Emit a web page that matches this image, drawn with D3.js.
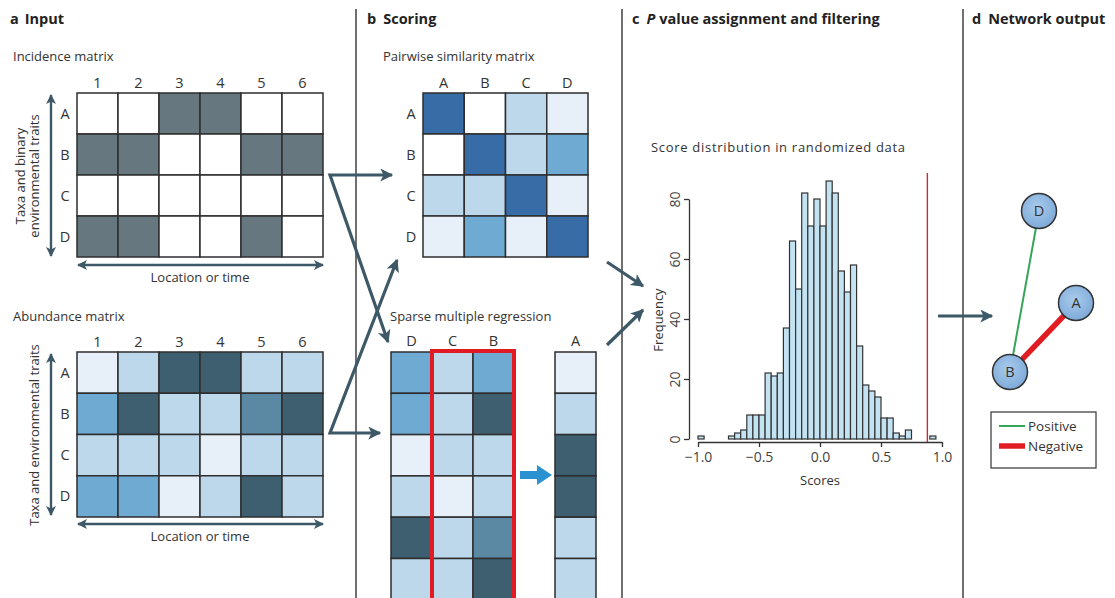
<!DOCTYPE html>
<html>
<head>
<meta charset="utf-8">
<script src="https://cdn.jsdelivr.net/npm/d3@7"></script>
<style>
  body { margin: 0; background: #fff; }
  svg { font-family: "Open Sans", Lato, sans-serif; fill: #333; }
  .head { font-size: 14.5px; font-weight: bold; fill: #222; }
  .sub { font-size: 13px; fill: #333; }
  .lab { font-size: 14.5px; fill: #333; }
  .axis text { font-size: 14px; fill: #444; font-family: "Open Sans", sans-serif; }
  .axis path, .axis line { stroke: #333; stroke-width: 1.3; }
</style>
</head>
<body>
<div id="fig"></div>
<script>
// figure size
var svgWidth = 1115;
var svgHeight = 598;

// ---- data ----
var sites = ["1", "2", "3", "4", "5", "6"];
var taxa = ["A", "B", "C", "D"];

// incidence (1 = present)
var incidenceA = [0, 0, 1, 1, 0, 0];
var incidenceB = [1, 1, 0, 0, 1, 1];
var incidenceC = [0, 0, 0, 0, 0, 0];
var incidenceD = [1, 1, 0, 0, 1, 0];

// abundance levels 0 (low) .. 4 (high)
var abundanceA = [0, 1, 4, 4, 1, 1];
var abundanceB = [2, 4, 1, 1, 3, 4];
var abundanceC = [1, 1, 1, 0, 1, 1];
var abundanceD = [2, 2, 0, 1, 4, 1];

// pairwise similarity levels (-1 = none, 5 = self)
var similarityA = [5, -1, 1, 0];
var similarityB = [-1, 5, 1, 2];
var similarityC = [1, 1, 5, 0];
var similarityD = [0, 2, 0, 5];

// sparse multiple regression columns (6 samples shown)
var regressors = ["D", "C", "B"];
var regD = [2, 2, 0, 1, 4, 1];
var regC = [1, 1, 1, 0, 1, 1];
var regB = [2, 4, 1, 1, 3, 4];
var regA = [0, 1, 4, 4, 1, 1];

// histogram of randomized scores (bin start, width 0.05)
var binStart = [-1.0, -0.75, -0.70, -0.65, -0.60, -0.55, -0.50, -0.45, -0.40, -0.35,
  -0.30, -0.25, -0.20, -0.15, -0.10, -0.05, 0.00, 0.05, 0.10, 0.15,
  0.20, 0.25, 0.30, 0.35, 0.40, 0.45, 0.50, 0.55, 0.60, 0.65, 0.70, 0.90];
var binCount = [1, 1, 2, 3, 8, 8, 8, 22, 21, 22,
  37, 66, 50, 82, 71, 80, 71, 86, 82, 56,
  49, 58, 31, 18, 16, 14, 7, 7, 2, 1, 3, 1];
var observedScore = 0.88;
var xTicks = [-1, -0.5, 0, 0.5, 1];
var yTicks = [0, 20, 40, 60, 80];

// network
var nodeNames = ["D", "A", "B"];
var nodeX = [1039, 1076, 1010];
var nodeY = [211, 303, 372];
var edgeFrom = ["D", "A"];
var edgeTo = ["B", "B"];
var edgeType = ["Positive", "Negative"];

// ---- colours ----
var levelColor = d3.scaleOrdinal()
  .domain([-1, 0, 1, 2, 3, 4, 5])
  .range(["#ffffff", "#e7f0f9", "#bdd7eb", "#6faad3", "#5b88a2", "#3e5f6f", "#386ca6"]);
var incColor = d3.scaleOrdinal().domain([0, 1]).range(["#ffffff", "#67777f"]);
var edgeColor = d3.scaleOrdinal().domain(["Positive", "Negative"]).range(["#35a55a", "#e11d23"]);
var edgeWidth = d3.scaleOrdinal().domain(["Positive", "Negative"]).range([2, 5.5]);
var arrowCol = "#3d5866";

var svg = d3.select("#fig")
  .append("svg")
  .attr("width", svgWidth)
  .attr("height", svgHeight);

// arrow heads
var defs = svg.append("defs");
defs.append("marker")
  .attr("id", "arr")
  .attr("viewBox", "0 0 10 10")
  .attr("refX", 9).attr("refY", 5)
  .attr("markerUnits", "userSpaceOnUse")
  .attr("markerWidth", 15).attr("markerHeight", 13)
  .attr("orient", "auto-start-reverse")
  .append("path").attr("d", "M0,0 L10,5 L0,10 L2.5,5 z").attr("fill", arrowCol);
defs.append("marker")
  .attr("id", "arrSmall")
  .attr("viewBox", "0 0 10 10")
  .attr("refX", 9).attr("refY", 5)
  .attr("markerUnits", "userSpaceOnUse")
  .attr("markerWidth", 11).attr("markerHeight", 10)
  .attr("orient", "auto-start-reverse")
  .append("path").attr("d", "M0,0 L10,5 L0,10 L2.5,5 z").attr("fill", arrowCol);

// panel separators
[356, 622, 963].forEach(function(x) {
  svg.append("line")
    .attr("x1", x).attr("x2", x).attr("y1", 9).attr("y2", svgHeight)
    .attr("stroke", "#333").attr("stroke-width", 1.4);
});

// panel headings
function heading(x, letter) {
  var t = svg.append("text").attr("class", "head").attr("x", x).attr("y", 24);
  t.append("tspan").text(letter);
  return t;
}
heading(10, "a").append("tspan").attr("dx", 6).text("Input");
heading(367, "b").append("tspan").attr("dx", 7).text("Scoring");
var hc = heading(632, "c");
hc.append("tspan").attr("dx", 7).attr("font-style", "italic").text("P");
hc.append("tspan").attr("dx", 4).text("value assignment and filtering");
heading(972, "d").append("tspan").attr("dx", 7).text("Network output");

// generic matrix drawer (own group per matrix)
function drawMatrix(parent, cols, rows, values, x0, y0, cw, ch, colorFn) {
  var g = parent.append("g");
  var x = d3.scaleBand().domain(cols).range([x0, x0 + cw * cols.length]);
  var y = d3.scaleBand().domain(rows).range([y0, y0 + ch * rows.length]);
  var cells = [];
  rows.forEach(function(r, i) {
    cols.forEach(function(c, j) { cells.push({ r: r, c: c, v: values[i][j] }); });
  });
  g.selectAll("rect.cell")
    .data(cells)
    .enter()
    .append("rect")
    .attr("class", "cell")
    .attr("x", d => x(d.c))
    .attr("y", d => y(d.r))
    .attr("width", x.bandwidth())
    .attr("height", y.bandwidth())
    .attr("fill", d => colorFn(d.v))
    .attr("stroke", "#2e2e2e")
    .attr("stroke-width", 1.5);
  return { x: x, y: y };
}

function colLabels(g, sc, yPos) {
  g.append("g").selectAll("text").data(sc.domain()).enter().append("text")
    .attr("class", "lab")
    .attr("x", d => sc(d) + sc.bandwidth() / 2)
    .attr("y", yPos)
    .attr("text-anchor", "middle")
    .text(d => d);
}
function rowLabels(g, sc, xPos) {
  g.append("g").selectAll("text").data(sc.domain()).enter().append("text")
    .attr("class", "lab")
    .attr("x", xPos)
    .attr("y", d => sc(d) + sc.bandwidth() / 2 + 5)
    .attr("text-anchor", "middle")
    .text(d => d);
}

// ---- panel a ----
var gA = svg.append("g");
gA.append("text").attr("class", "sub").attr("x", 13).attr("y", 61).text("Incidence matrix");
var inc = drawMatrix(gA, sites, taxa, [incidenceA, incidenceB, incidenceC, incidenceD],
  77, 93, 41, 41, incColor);
colLabels(gA, inc.x, 88);
rowLabels(gA, inc.y, 65);
gA.append("path").attr("d", "M51,95 L51,256").attr("stroke", arrowCol).attr("stroke-width", 2.4)
  .attr("marker-start", "url(#arrSmall)").attr("marker-end", "url(#arrSmall)");
gA.append("path").attr("d", "M78,265 L323,265").attr("stroke", arrowCol).attr("stroke-width", 2.4)
  .attr("marker-start", "url(#arrSmall)").attr("marker-end", "url(#arrSmall)");
gA.append("text").attr("class", "sub").attr("x", 200).attr("y", 282).attr("text-anchor", "middle").text("Location or time");
gA.append("text").attr("class", "sub").attr("transform", "translate(25,176) rotate(-90)")
  .attr("text-anchor", "middle").text("Taxa and binary");
gA.append("text").attr("class", "sub").attr("transform", "translate(39,176) rotate(-90)")
  .attr("text-anchor", "middle").text("environmental traits");

gA.append("text").attr("class", "sub").attr("x", 13).attr("y", 321).text("Abundance matrix");
var abu = drawMatrix(gA, sites, taxa, [abundanceA, abundanceB, abundanceC, abundanceD],
  77, 352, 41, 41.25, levelColor);
colLabels(gA, abu.x, 347);
rowLabels(gA, abu.y, 65);
gA.append("path").attr("d", "M51,354 L51,515").attr("stroke", arrowCol).attr("stroke-width", 2.4)
  .attr("marker-start", "url(#arrSmall)").attr("marker-end", "url(#arrSmall)");
gA.append("path").attr("d", "M78,524 L323,524").attr("stroke", arrowCol).attr("stroke-width", 2.4)
  .attr("marker-start", "url(#arrSmall)").attr("marker-end", "url(#arrSmall)");
gA.append("text").attr("class", "sub").attr("x", 200).attr("y", 541).attr("text-anchor", "middle").text("Location or time");
gA.append("text").attr("class", "sub").attr("transform", "translate(39,435) rotate(-90)")
  .attr("text-anchor", "middle").text("Taxa and environmental traits");

// ---- panel b ----
var gB = svg.append("g");
gB.append("text").attr("class", "sub").attr("x", 383).attr("y", 61).text("Pairwise similarity matrix");
var sim = drawMatrix(gB, taxa, taxa, [similarityA, similarityB, similarityC, similarityD],
  423, 93, 41.25, 41, levelColor);
colLabels(gB, sim.x, 88);
rowLabels(gB, sim.y, 411);

gB.append("text").attr("class", "sub").attr("x", 390).attr("y", 321).text("Sparse multiple regression");
var rows6 = ["r1", "r2", "r3", "r4", "r5", "r6"];
var regVals = rows6.map((r, i) => [regD[i], regC[i], regB[i]]);
var reg = drawMatrix(gB, regressors, rows6, regVals, 391, 352, 41, 41.3, levelColor);
colLabels(gB, reg.x, 346);
var resp = drawMatrix(gB, ["A"], rows6, rows6.map((r, i) => [regA[i]]), 555, 352, 41, 41.3, levelColor);
colLabels(gB, resp.x, 346);
// selected predictors
gB.append("rect")
  .attr("x", reg.x("C")).attr("y", 351)
  .attr("width", reg.x.bandwidth() * 2).attr("height", 260)
  .attr("fill", "none").attr("stroke", "#e01b24").attr("stroke-width", 4);
// blue block arrow
gB.append("path")
  .attr("d", "M520,471 L537,471 L537,465 L552,475 L537,485 L537,479 L520,479 Z")
  .attr("fill", "#2a92d1");

// arrows between panels
var arrowPaths = [
  "M392,175 L330,175 L388,342",
  "M380,433 L330,433 L397,260",
  "M607,262 L643,286",
  "M607,345 L643,310",
  "M938,316 L992,316"
];
svg.append("g").selectAll("path")
  .data(arrowPaths)
  .enter()
  .append("path")
  .attr("d", d => d)
  .attr("fill", "none")
  .attr("stroke", arrowCol)
  .attr("stroke-width", 3.2)
  .attr("stroke-linejoin", "miter")
  .attr("marker-start", (d, i) => i < 2 ? "url(#arr)" : null)
  .attr("marker-end", "url(#arr)");

// ---- panel c : histogram ----
var gC = svg.append("g");
gC.append("text").attr("class", "sub").attr("x", 651).attr("y", 152)
  .attr("font-size", 15).attr("letter-spacing", 0.7).text("Score distribution in randomized data");

var xScale = d3.scaleLinear().domain([-1, 1]).range([698, 942]);
var yScale = d3.scaleLinear().domain([0, 80]).range([439, 199]);
var binW = 0.05;

gC.append("g").selectAll("rect")
  .data(binStart)
  .enter()
  .append("rect")
  .attr("x", d => xScale(d))
  .attr("y", (d, i) => yScale(binCount[i]))
  .attr("width", xScale(binW) - xScale(0))
  .attr("height", (d, i) => yScale(0) - yScale(binCount[i]))
  .attr("fill", "#c3e3f3")
  .attr("stroke", "#333")
  .attr("stroke-width", 1.2);

var bottomAxis = d3.axisBottom(xScale).tickValues(xTicks).tickFormat(d3.format(".1f")).tickSize(5).tickSizeOuter(0);
gC.append("g").attr("class", "axis")
  .attr("transform", "translate(0,442)")
  .call(bottomAxis)
  .selectAll("text").attr("dy", "0.85em");

var leftAxis = d3.axisLeft(yScale).tickValues(yTicks).tickSize(5).tickSizeOuter(0);
var yAx = gC.append("g").attr("class", "axis")
  .attr("transform", "translate(689,0)")
  .call(leftAxis);
yAx.selectAll("text")
  .attr("transform", "rotate(-90)")
  .attr("x", 0).attr("y", -9).attr("dy", 0)
  .attr("text-anchor", "middle");

gC.append("text").attr("class", "sub").attr("x", 820).attr("y", 485)
  .attr("text-anchor", "middle").attr("font-size", 12.5).text("Scores");
gC.append("text").attr("class", "sub").attr("transform", "translate(663,320) rotate(-90)")
  .attr("text-anchor", "middle").attr("font-size", 12).text("Frequency");

// observed score
gC.append("line")
  .attr("x1", xScale(observedScore)).attr("x2", xScale(observedScore))
  .attr("y1", 173).attr("y2", 442)
  .attr("stroke", "#d2283a").attr("stroke-width", 1.4);

// ---- panel d : network ----
var gD = svg.append("g");
var nx = d3.scaleOrdinal().domain(nodeNames).range(nodeX);
var ny = d3.scaleOrdinal().domain(nodeNames).range(nodeY);

gD.append("g").selectAll("line")
  .data(edgeFrom)
  .enter()
  .append("line")
  .attr("x1", d => nx(d)).attr("y1", d => ny(d))
  .attr("x2", (d, i) => nx(edgeTo[i])).attr("y2", (d, i) => ny(edgeTo[i]))
  .attr("stroke", (d, i) => edgeColor(edgeType[i]))
  .attr("stroke-width", (d, i) => edgeWidth(edgeType[i]));

var grad = defs.append("radialGradient").attr("id", "nodeGrad").attr("cx", "45%").attr("cy", "40%").attr("r", "60%");
grad.append("stop").attr("offset", "0%").attr("stop-color", "#a9cbec");
grad.append("stop").attr("offset", "100%").attr("stop-color", "#7eaad8");

var node = gD.selectAll("g.node")
  .data(nodeNames)
  .enter()
  .append("g")
  .attr("class", "node")
  .attr("transform", d => `translate(${nx(d)},${ny(d)})`);
node.append("circle").attr("r", 17.5).attr("fill", "url(#nodeGrad)").attr("stroke", "#333").attr("stroke-width", 1.5);
node.append("text").attr("class", "lab").attr("text-anchor", "middle").attr("dy", 5).attr("font-size", 13).text(d => d);

// legend
var legend = gD.append("g").attr("transform", "translate(991,412)");
legend.append("rect").attr("width", 105).attr("height", 56).attr("fill", "#fff").attr("stroke", "#333").attr("stroke-width", 1.2);
legend.selectAll("g.item")
  .data(edgeColor.domain())
  .enter()
  .append("g")
  .attr("class", "item")
  .attr("transform", (d, i) => `translate(0,${14 + i * 20})`)
  .each(function(d) {
    var it = d3.select(this);
    it.append("line").attr("x1", 8).attr("x2", 34).attr("y1", 0).attr("y2", 0)
      .attr("stroke", edgeColor(d)).attr("stroke-width", edgeWidth(d));
    it.append("text").attr("x", 37).attr("y", 5).attr("font-size", 13.5).attr("fill", "#333").text(d);
  });
</script>
</body>
</html>
